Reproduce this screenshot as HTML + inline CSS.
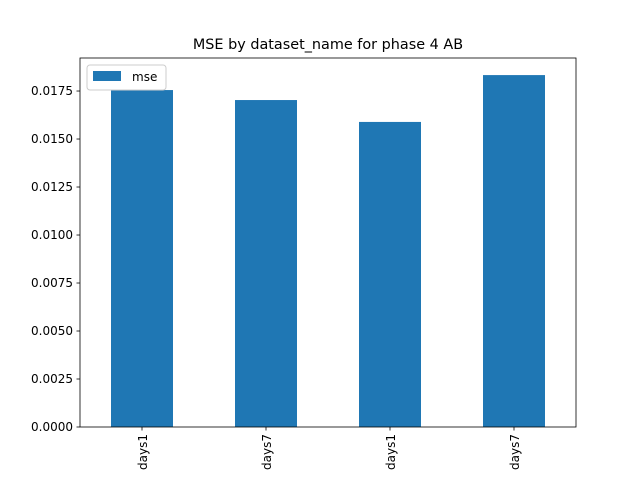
<!DOCTYPE html>
<html><head><meta charset="utf-8"><style>
body{margin:0;background:#fff;}
svg{display:block;font-family:"DejaVu Sans","Liberation Sans",sans-serif;}
</style></head><body>
<svg id="chart" width="640" height="480"></svg>
<script>
const categories=["days1","days7","days1","days7"];
const mseValues=[0.01755,0.01703,0.01589,0.01833];
const yTicks=[0,0.0025,0.005,0.0075,0.01,0.0125,0.015,0.0175];
const yTickLabels=["0.0000","0.0025","0.0050","0.0075","0.0100","0.0125","0.0150","0.0175"];
const NS="http://www.w3.org/2000/svg";
const svg=document.getElementById('chart');
const L=80,R=576,T=58,B=427,yMax=0.01922;
const y=v=>B-(v/yMax)*(B-T);
const step=(R-L)/categories.length;
const x=i=>L+step*(i+0.5);
function mk(t,a,p){const e=document.createElementNS(NS,t);for(const k in a)e.setAttribute(k,a[k]);(p||svg).appendChild(e);return e;}
const t=mk('text',{x:328,y:49,'text-anchor':'middle','font-size':14.4,fill:'#000'});
t.textContent="MSE by dataset_name for phase 4 AB";


categories.forEach((c,i)=>{
 const b=mk('rect',{x:x(i)-step/4,y:y(mseValues[i]),width:step/2,height:B-y(mseValues[i]),fill:'#1f77b4'});
 
 
 mk('line',{x1:x(i),x2:x(i),y1:B,y2:B+3.5,stroke:'#000','stroke-width':0.8});
 const lt=mk('text',{transform:`translate(${x(i)+5},${B+7}) rotate(-90)`,'text-anchor':'end','font-size':12,fill:'#000'});
 lt.textContent=c;
 
 
});
yTicks.forEach((v,i)=>{
 mk('line',{x1:L-3.5,x2:L,y1:y(v),y2:y(v),stroke:'#000','stroke-width':0.8});
 const lt=mk('text',{x:L-7,y:y(v)+4,'text-anchor':'end','font-size':12,fill:'#000'});
 lt.textContent=yTickLabels[i];
 
 
});
const fr=mk('rect',{x:L,y:T,width:R-L,height:B-T,fill:'none',stroke:'#000','stroke-width':0.8});


const lg=mk('g',{});


mk('rect',{x:87,y:65,width:79,height:25,rx:3,fill:'#fff','fill-opacity':0.8,stroke:'#ccc'},lg);
mk('rect',{x:93,y:71,width:28,height:10,fill:'#1f77b4'},lg);
const lt=mk('text',{x:132,y:81,'font-size':12,fill:'#000'},lg);
lt.textContent="mse";
</script>
</body></html>
